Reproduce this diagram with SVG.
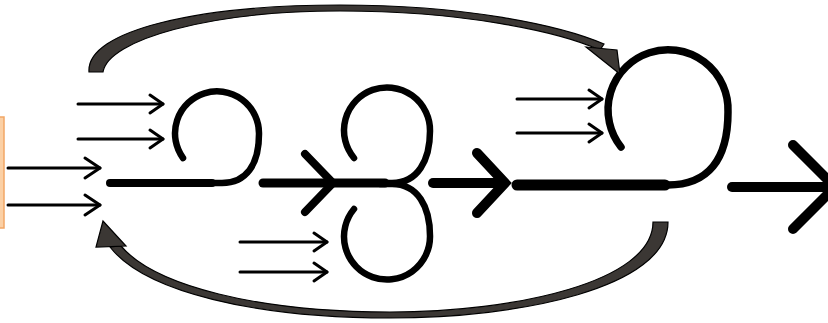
<svg xmlns="http://www.w3.org/2000/svg" width="828" height="323" viewBox="0 0 828 323">
<style>
.thin{fill:none;stroke:#000;stroke-width:3;stroke-linecap:round;stroke-linejoin:round}
.loop{fill:none;stroke:#000;stroke-linecap:round;stroke-linejoin:round}
.bold{fill:none;stroke:#000;stroke-linecap:round;stroke-linejoin:miter}
.arc{fill:#3b3734;stroke:#000;stroke-width:1.2;stroke-linejoin:miter}
</style>
<rect width="828" height="323" fill="#fff"/>
<g id="source">
<rect x="-6" y="117" width="10" height="111" fill="#fbd0a5" stroke="#f2a766" stroke-width="1.5"/>
</g>
<g id="loop1">
<line class="loop" x1="110" y1="183" x2="212" y2="183" stroke-width="8"/>
<path class="loop" stroke-width="6.5" d="M200,183 L222,183 C246,183 259,165 259,134 A42 42 0 1 0 183,158"/>
</g>
<g id="loop2">
<line class="loop" x1="263" y1="183" x2="385" y2="183" stroke-width="9"/>
<path class="loop" stroke-width="6.5" d="M380,183 L392,183 C418,183 430,160 430,131 A43 43 0 1 0 354,158"/>
<path class="loop" stroke-width="6.5" d="M380,184 L392,184 C418,184 430,207 430,236 A43 43 0 1 1 354,209"/>
</g>
<g id="loop3">
<line class="loop" x1="517" y1="185" x2="665" y2="185" stroke-width="11"/>
<path class="loop" stroke-width="7.5" d="M655,185 L668,185 C708,185 728,160 728,112 A60 60 0 1 0 621,147"/>
</g>
<g id="connectors">
<polyline class="thin" points="8,168 100,168"/><polyline class="thin" points="85,158 100,168 85,178"/>
<polyline class="thin" points="8,205 100,205"/><polyline class="thin" points="85,195 100,205 85,215"/>
<polyline class="thin" points="78,104 163,104"/><polyline class="thin" points="150,95 163,104 150,113"/>
<polyline class="thin" points="78,139 163,139"/><polyline class="thin" points="150,130 163,139 150,148"/>
<polyline class="thin" points="240,242 327,242"/><polyline class="thin" points="314,233 327,242 314,251"/>
<polyline class="thin" points="240,272 327,272"/><polyline class="thin" points="314,263 327,272 314,281"/>
<polyline class="thin" points="517,99 602,99"/><polyline class="thin" points="589,90 602,99 589,108"/>
<polyline class="thin" points="517,133 602,133"/><polyline class="thin" points="589,124 602,133 589,142"/>
<polyline class="bold" stroke-width="8" points="305,154 333,183 305,212"/>
<line class="bold" x1="433" y1="183" x2="503" y2="183" stroke-width="10"/>
<polyline class="bold" stroke-width="10" points="477,153 505,183 477,213"/>
<line class="bold" x1="732" y1="187" x2="830" y2="187" stroke-width="10"/>
<polyline class="bold" stroke-width="10" points="793,145 835,187 793,229"/>
<path class="arc" d="M89,72 C86,30 200,5 340,5 C465,5 560,25 604,44 L600,50 C557,31 462,11 340,11 C208,11 108,40 103,72 Z"/>
<polygon class="arc" points="586,47 617,50 620,74"/>
<path class="arc" d="M668,222 C668,288 520,318 390,318 C255,318 145,292 110,247 L121,246 C155,286 258,312 390,312 C515,312 653,282 653,222 Z"/>
<polygon class="arc" points="103,221 96,247 126,246"/>
</g>
</svg>
